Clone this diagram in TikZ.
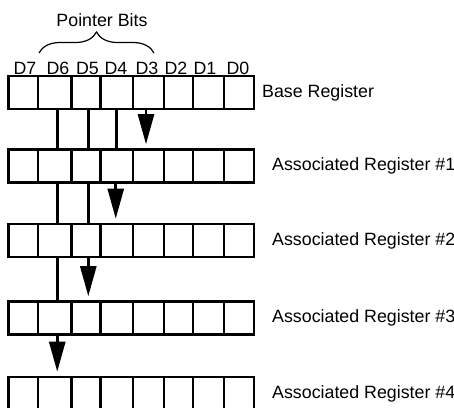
\documentclass[tikz,border=0pt]{standalone}
\usepackage{fontspec}
\setmainfont{Liberation Sans}
\usetikzlibrary{arrows.meta,decorations.pathreplacing}
\begin{document}
\begin{tikzpicture}[x=1pt,y=-1pt,
  cell/.style={draw,line width=2.6pt,inner sep=0pt,minimum height=33pt},
  link/.style={line width=2.6pt},
  ptr/.style={line width=2.6pt,-{Triangle[length=30pt,width=16pt]},shorten >=4pt},
  lbl/.style={font=\fontsize{17.8}{20}\selectfont,inner sep=0pt},
  bracestyle/.style={line width=1.2pt,decorate,decoration={brace,amplitude=21pt}}
  ]
\clip (0,0) rectangle (454,407);
\foreach \r/\yc in {0/92.5,1/166,2/240.5,3/318,4/393.5}{
  \foreach \i/\l/\rr in {7/8.5/38,6/38/71.5,5/71.5/100.5,4/100.5/133,3/133/164,2/164/193,1/193/224,0/224/254}{
    \pgfmathsetmacro\w{\rr-\l}
    \node[cell,minimum width=\w pt] (r\r c\i) at ({(\l+\rr)/2},\yc) {};
  }
}
% register labels
\node[lbl,anchor=west] (base) at (262,92.5) {Base Register};
\node[lbl,anchor=west] (a1) at (272,166) {Associated Register \#1};
\node[lbl,anchor=west] (a2) at (272,240.5) {Associated Register \#2};
\node[lbl,anchor=west] (a3) at (272,318) {Associated Register \#3};
\node[lbl,anchor=west] (a4) at (272,393.5) {Associated Register \#4};
% bit labels
\foreach \i/\x in {7/25,6/58,5/87.5,4/116,3/147,2/176,1/205,0/238}
  \node[lbl] (d\i) at (\x,68.5) {D\i};
% brace
\coordinate (bl) at (39,53);
\coordinate (br) at (154,53);
\draw[bracestyle] (bl) -- (br);
\node[lbl] (pb) at (102,20) {Pointer Bits};
% base -> reg1
\draw[link] ([xshift=2.5pt]r0c6.south) -- ([xshift=2.5pt]r1c6.north);
\draw[link] ([xshift=2.3pt]r0c5.south) -- ([xshift=2.3pt]r1c5.north);
\draw[link] (r0c4.south) -- (r1c4.north);
\draw[ptr] ([xshift=-2.5pt]r0c3.south) -- ([xshift=-2.5pt]r1c3.north);
% reg1 -> reg2
\draw[link] ([xshift=2.5pt]r1c6.south) -- ([xshift=2.5pt]r2c6.north);
\draw[link] ([xshift=2.3pt]r1c5.south) -- ([xshift=2.3pt]r2c5.north);
\draw[ptr] ([xshift=-1pt]r1c4.south) -- ([xshift=-1pt]r2c4.north);
% reg2 -> reg3
\draw[link] ([xshift=2.5pt]r2c6.south) -- ([xshift=2.5pt]r3c6.north);
\draw[ptr] ([xshift=2.3pt]r2c5.south) -- ([xshift=2.3pt]r3c5.north);
% reg3 -> reg4
\draw[ptr] ([xshift=2.5pt]r3c6.south) -- ([xshift=2.5pt]r4c6.north);
\end{tikzpicture}
\end{document}
